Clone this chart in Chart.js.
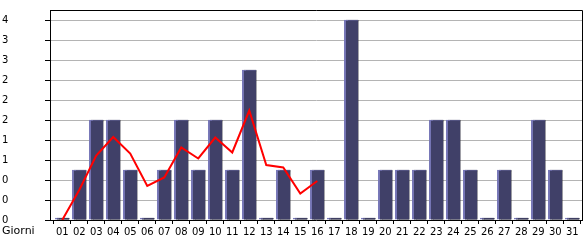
<!DOCTYPE html>
<html>
<head>
<meta charset="utf-8">
<script src="https://cdn.jsdelivr.net/npm/chart.js@4/dist/chart.umd.min.js"></script>
<style>
    html, body { margin: 0; padding: 0; background: #ffffff; }
</style>
</head>
<body>
<canvas id="giorniChart" width="585" height="240"></canvas>
<script>

const giorni = ['01', '02', '03', '04', '05', '06', '07', '08', '09', '10', '11', '12', '13', '14', '15', '16',
    '17', '18', '19', '20', '21', '22', '23', '24', '25', '26', '27', '28', '29', '30', '31'];

const visite = [0, 1, 2, 2, 1, 0, 1, 2, 1, 2, 1, 3, 0, 1, 0, 1, 0, 4, 0, 1, 1, 1, 2, 2, 1, 0, 1, 0, 2, 1, 0];

// linea rossa, solo fino al giorno 16
const media = [0, 0.6, 1.29, 1.66, 1.33, 0.68, 0.85, 1.45, 1.23, 1.65, 1.35, 2.19, 1.1, 1.05, 0.53, 0.78];

const yTickValues = [0, 0.4, 0.8, 1.2, 1.6, 2, 2.4, 2.8, 3.2, 3.6, 4];
const yTickLabels = ['0', '0', '0', '1', '1', '2', '2', '2', '3', '3', '4'];

Chart.defaults.font.family = 'DejaVu Sans';
Chart.defaults.font.size = 10;
Chart.defaults.color = '#000';

const barShadow = {
    id: 'barShadow',
    beforeDatasetDraw(chart, args) {
        if (args.index !== 0) return;
        const ctx = chart.ctx;
        ctx.save();
        ctx.shadowColor = '#000000';
        ctx.shadowOffsetX = 2;
        ctx.shadowOffsetY = 0;
        ctx.shadowBlur = 0;
    },
    afterDatasetDraw(chart, args) {
        if (args.index !== 0) return;
        chart.ctx.restore();
    }
};

const frame = {
    id: 'frame',
    afterDraw(chart) {
        const ctx = chart.ctx;
        const a = chart.chartArea;
        ctx.save();
        ctx.strokeStyle = '#000';
        ctx.lineWidth = 1;
        ctx.beginPath();
        ctx.moveTo(a.left, a.top + 0.5);
        ctx.lineTo(a.right + 0.5, a.top + 0.5);
        ctx.lineTo(a.right + 0.5, a.bottom);
        ctx.stroke();

        ctx.fillStyle = '#000';
        ctx.font = '11px "DejaVu Sans"';
        ctx.textAlign = 'left';
        ctx.textBaseline = 'middle';
        ctx.fillText('Giorni', 2, 231);
        ctx.restore();
    }
};

new Chart(document.getElementById('giorniChart'), {

    type: 'bar',
    data: {
        datasets: [{
            type: 'bar',
            data: giorni.map((g, i) => ({ x: i + 1, y: visite[i] })),
            backgroundColor: '#404068',
            borderColor: '#7878b8',
            borderWidth: { left: 2, top: 1, right: 0, bottom: 0 },
            borderSkipped: false,
            barThickness: 14,
            minBarLength: 2,
            order: 1
        }, {
            type: 'line',
            data: media.map((v, i) => ({ x: i + 1, y: v })),
            borderColor: '#ff0000',
            borderWidth: 2,
            pointRadius: 0,
            tension: 0,
            fill: false,
            order: 0
        }]
    },

    options: {
        responsive: false,
        animation: false,
        devicePixelRatio: 1,
        layout: {
            padding: { top: 10, right: 3, left: 2, bottom: 0 }
        },
        plugins: {
            legend: { display: false },
            tooltip: { enabled: false }
        },
        scales: {
            x: {
                type: 'linear',
                offset: false,
                min: 0.28,
                max: 31.57,
                afterBuildTicks: (scale) => {
                    scale.ticks = giorni.map((g, i) => ({ value: i + 1 }));
                },
                afterFit: (scale) => { scale.height = 20; },
                ticks: {
                    autoSkip: false,
                    maxRotation: 0,
                    padding: 2,
                    callback: (v) => giorni[v - 1]
                },
                grid: {
                    drawOnChartArea: false,
                    tickColor: '#000',
                    tickLength: 4
                },
                border: { color: '#000' }
            },
            y: {
                min: 0,
                max: 4.2,
                afterBuildTicks: (scale) => {
                    scale.ticks = yTickValues.map(v => ({ value: v }));
                },
                afterFit: (scale) => { scale.width = 48; },
                ticks: {
                    crossAlign: 'far',
                    callback: (v, i) => yTickLabels[i]
                },
                grid: {
                    color: '#b4b4b4',
                    tickColor: '#000',
                    tickLength: 5
                },
                border: { color: '#000' }
            }
        }
    },

    plugins: [barShadow, frame]

});

</script>
</body>
</html>
